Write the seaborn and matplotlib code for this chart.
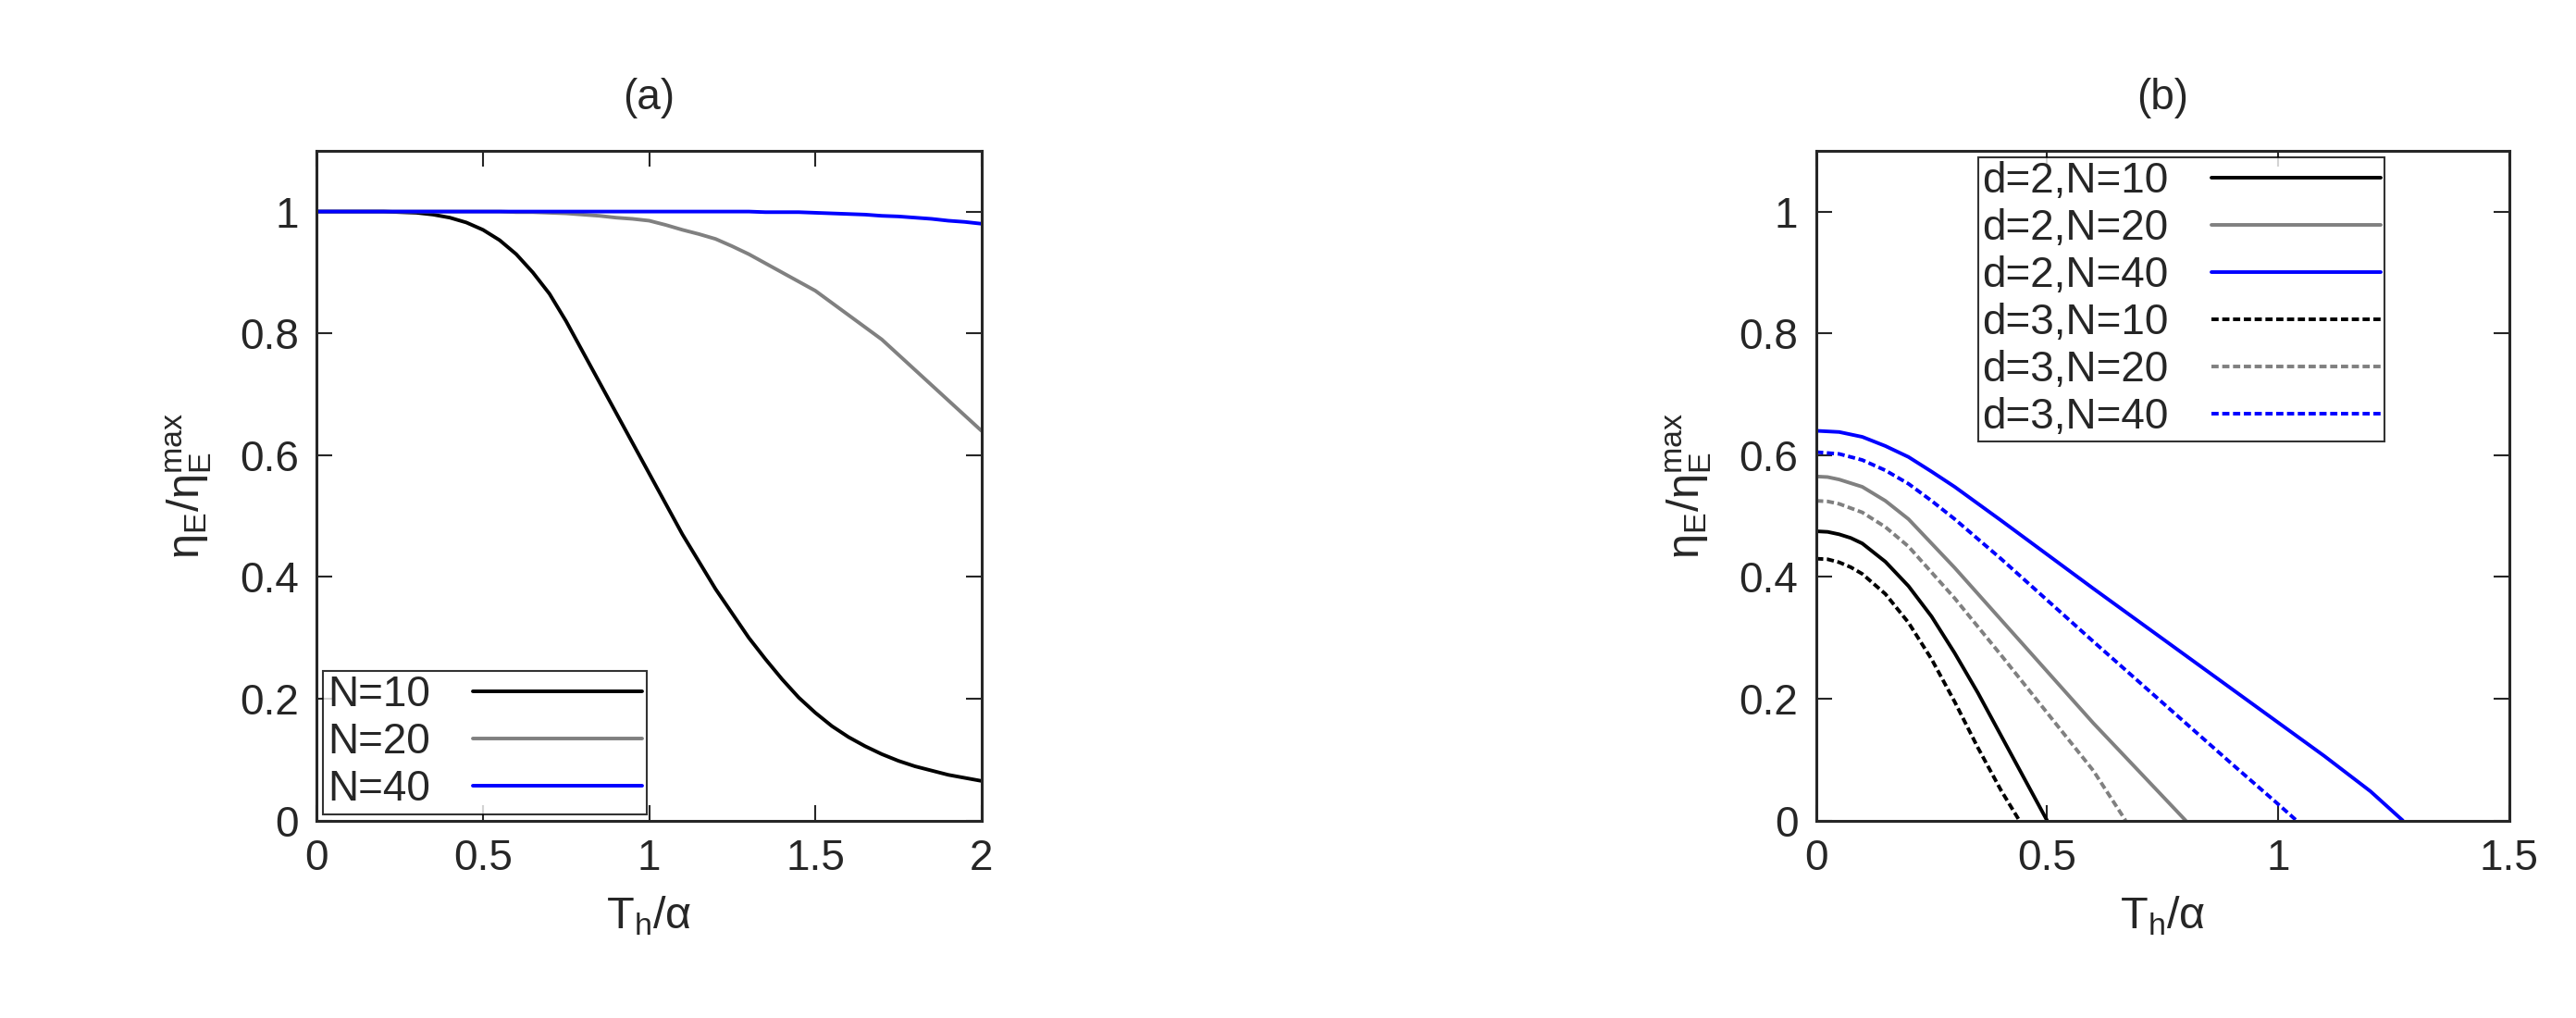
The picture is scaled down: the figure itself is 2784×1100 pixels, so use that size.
import matplotlib
matplotlib.use("Agg")
import matplotlib.pyplot as plt
import seaborn as sns

sns.set_style("ticks")
plt.rcParams['font.family'] = ['Liberation Sans', 'DejaVu Sans']
plt.rcParams['mathtext.fontset'] = 'custom'
plt.rcParams['mathtext.rm'] = 'Liberation Sans'
plt.rcParams['mathtext.it'] = 'Liberation Sans'

# Panel (a)
xa = [0, 0.1, 0.2, 0.3, 0.35, 0.4, 0.45, 0.5, 0.55, 0.6, 0.65, 0.7, 0.75, 0.8, 0.85, 0.9, 0.95, 1.0, 1.05, 1.1, 1.15, 1.2,
      1.25, 1.3, 1.35, 1.4, 1.45, 1.5, 1.55, 1.6, 1.65, 1.7, 1.75, 1.8, 1.85, 1.9, 1.95, 2.0]
a_N10 = [1, 1, 1, 0.998, 0.995, 0.99, 0.982, 0.97, 0.953, 0.93, 0.90, 0.865, 0.82, 0.77, 0.72, 0.67, 0.62, 0.57, 0.52, 0.47,
         0.425, 0.38, 0.34, 0.30, 0.265, 0.232, 0.202, 0.177, 0.155, 0.137, 0.122, 0.109, 0.098, 0.089, 0.082, 0.075, 0.07, 0.065]
a_N20 = [1, 1, 1, 1, 1, 1, 1, 1, 1, 0.999, 0.999, 0.998, 0.997, 0.995, 0.993, 0.99, 0.988, 0.985, 0.978, 0.97,
         0.963, 0.955, 0.943, 0.93, 0.915, 0.90, 0.885, 0.87, 0.85, 0.83, 0.81, 0.79, 0.765, 0.74, 0.715, 0.69, 0.665, 0.64]
a_N40 = [1, 1, 1, 1, 1, 1, 1, 1, 1, 1, 1, 1, 1, 1, 1, 1, 1, 1, 1, 1,
         1, 1, 1, 1, 0.999, 0.999, 0.999, 0.998, 0.997, 0.996, 0.995, 0.993, 0.992, 0.99, 0.988, 0.985, 0.983, 0.98]
labels_a = ["N=10", "N=20", "N=40"]

# Panel (b)
b_x_d2N10 = [0, 0.025, 0.05, 0.075, 0.1, 0.15, 0.2, 0.25, 0.3, 0.35, 0.4, 0.45, 0.5]
b_y_d2N10 = [0.475, 0.474, 0.47, 0.464, 0.455, 0.425, 0.385, 0.335, 0.275, 0.21, 0.14, 0.07, 0.0]
b_x_d3N10 = [0, 0.025, 0.05, 0.075, 0.1, 0.15, 0.2, 0.25, 0.3, 0.35, 0.4, 0.44]
b_y_d3N10 = [0.43, 0.429, 0.424, 0.416, 0.405, 0.372, 0.325, 0.265, 0.195, 0.12, 0.05, 0.0]
b_x_d2N20 = [0, 0.025, 0.05, 0.1, 0.15, 0.2, 0.3, 0.4, 0.5, 0.6, 0.7, 0.8]
b_y_d2N20 = [0.565, 0.564, 0.56, 0.548, 0.525, 0.495, 0.415, 0.33, 0.245, 0.16, 0.08, 0.0]
b_x_d3N20 = [0, 0.025, 0.05, 0.1, 0.15, 0.2, 0.3, 0.4, 0.5, 0.6, 0.67]
b_y_d3N20 = [0.525, 0.524, 0.52, 0.506, 0.482, 0.45, 0.365, 0.272, 0.177, 0.082, 0.0]
b_x_d2N40 = [0, 0.05, 0.1, 0.15, 0.2, 0.25, 0.3, 0.4, 0.5, 0.6, 0.7, 0.8, 0.9, 1.0, 1.1, 1.2, 1.27]
b_y_d2N40 = [0.64, 0.638, 0.63, 0.615, 0.597, 0.573, 0.548, 0.493, 0.437, 0.381, 0.326, 0.271, 0.216, 0.161, 0.106, 0.048, 0.0]
b_x_d3N40 = [0, 0.05, 0.1, 0.15, 0.2, 0.25, 0.3, 0.4, 0.5, 0.6, 0.7, 0.8, 0.9, 1.0, 1.04]
b_y_d3N40 = [0.605, 0.602, 0.592, 0.575, 0.553, 0.525, 0.495, 0.43, 0.362, 0.294, 0.227, 0.16, 0.093, 0.027, 0.0]

fig = plt.figure(figsize=(27.84, 11), dpi=100)
axa = fig.add_axes([0.123, 0.194, 0.258, 0.658])
axb = fig.add_axes([0.705, 0.194, 0.269, 0.658])

colors = ['black', 'gray', 'blue']
fs = 33
for y, lab, c in zip([a_N10, a_N20, a_N40], labels_a, colors):
    sns.lineplot(x=xa, y=y, ax=axa, color=c, lw=2.8, label=lab)

dash = (0, (2, 1))
bcurves = [
    (b_x_d2N10, b_y_d2N10, "d=2,N=10", 'black', '-'),
    (b_x_d2N20, b_y_d2N20, "d=2,N=20", 'gray', '-'),
    (b_x_d2N40, b_y_d2N40, "d=2,N=40", 'blue', '-'),
    (b_x_d3N10, b_y_d3N10, "d=3,N=10", 'black', dash),
    (b_x_d3N20, b_y_d3N20, "d=3,N=20", 'gray', dash),
    (b_x_d3N40, b_y_d3N40, "d=3,N=40", 'blue', dash),
]
for x, y, lab, c, ls in bcurves:
    sns.lineplot(x=x, y=y, ax=axb, color=c, lw=2.8, linestyle=ls, label=lab)

for ax, xmax, xt, title in [(axa, 2, [0, 0.5, 1, 1.5, 2], "(a)"), (axb, 1.5, [0, 0.5, 1, 1.5], "(b)")]:
    ax.set_xlim(0, xmax)
    ax.set_ylim(0, 1.1)
    ax.set_xticks(xt)
    ax.set_xticklabels([f"{v:g}" for v in xt])
    ax.set_yticks([0, 0.2, 0.4, 0.6, 0.8, 1])
    ax.set_yticklabels(["0", "0.2", "0.4", "0.6", "0.8", "1"])
    ax.tick_params(direction='in', top=True, right=True, labelsize=fs, length=12, width=1.5, pad=14)
    for s in ax.spines.values():
        s.set_linewidth(2.2)
    ax.set_xlabel(r'$\mathregular{T_h/\alpha}$', fontsize=fs + 2, labelpad=12)
    ax.set_ylabel(r'$\mathregular{\eta_E/\eta_E^{max}}$', fontsize=fs + 2, labelpad=20)
    ax.set_title(title, fontsize=fs, pad=32)

leg = axa.legend(loc='lower left', markerfirst=False, fontsize=fs, frameon=True, fancybox=False,
                 handlelength=4.0, borderpad=0.1, labelspacing=0.15, borderaxespad=0.15, handletextpad=1.0)
leg.get_frame().set_edgecolor('black'); leg.get_frame().set_linewidth(1.5)
leg = axb.legend(loc='upper right', markerfirst=False, fontsize=fs, frameon=True, fancybox=False,
                 handlelength=4.0, borderpad=0.1, labelspacing=0.15, borderaxespad=0.15, handletextpad=1.0,
                 bbox_to_anchor=(0.83, 1.0))
leg.get_frame().set_edgecolor('black'); leg.get_frame().set_linewidth(1.5)

fig.savefig("out.png", dpi=100)
